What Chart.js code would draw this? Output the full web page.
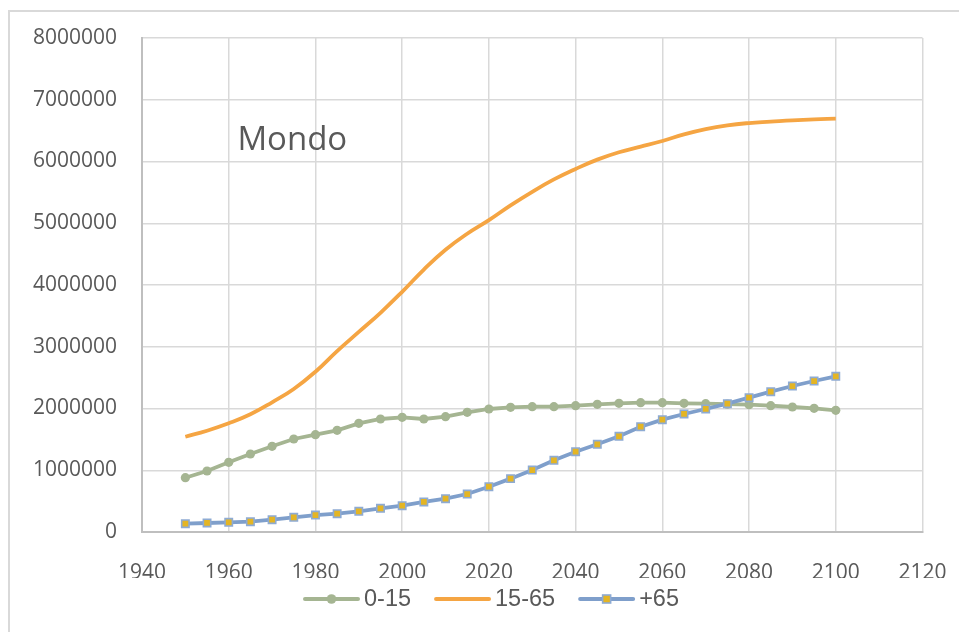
<!DOCTYPE html>
<html>
<head>
<meta charset="utf-8">
<script src="https://cdn.jsdelivr.net/npm/chart.js@4.4.1/dist/chart.umd.min.js"></script>
<style>
  html, body { margin: 0; padding: 0; background: #fff; overflow: hidden; width: 959px; height: 632px; }
  #frame { position: absolute; left: 8px; top: 10px; width: 1000px; height: 1000px;
           border-left: 2px solid #d9d9d9; border-top: 2px solid #d9d9d9; }
  #wrap { position: absolute; left: 0; top: 0; width: 983px; height: 632px; }
</style>
</head>
<body>
<div id="frame"></div>
<div id="wrap"><canvas id="c" width="983" height="632"></canvas></div>
<script>
// World population by age group (thousands), 1950-2100
const years = [1950, 1955, 1960, 1965, 1970, 1975, 1980, 1985, 1990, 1995,
               2000, 2005, 2010, 2015, 2020, 2025, 2030, 2035, 2040, 2045,
               2050, 2055, 2060, 2065, 2070, 2075, 2080, 2085, 2090, 2095, 2100];

const age0to15 = [879000, 988000, 1129000, 1263000, 1388000, 1506000, 1576000, 1647000, 1760000, 1830000,
                  1857000, 1830000, 1867000, 1938000, 1992000, 2019000, 2030000, 2030000, 2046000, 2068000,
                  2084000, 2094000, 2094000, 2084000, 2078000, 2070000, 2062000, 2046000, 2024000, 2003000, 1971000];

const age15to65 = [1543000, 1640000, 1760000, 1906000, 2100000, 2316000, 2596000, 2930000, 3240000, 3550000,
                   3890000, 4250000, 4570000, 4830000, 5050000, 5290000, 5510000, 5710000, 5880000, 6030000,
                   6150000, 6240000, 6332000, 6440000, 6526000, 6586000, 6623000, 6645000, 6667000, 6683000, 6693000];

const age65plus = [135000, 146000, 157000, 167000, 200000, 238000, 275000, 297000, 335000, 384000,
                   426000, 486000, 540000, 615000, 734000, 864000, 1004000, 1161000, 1301000, 1420000,
                   1550000, 1706000, 1819000, 1911000, 1992000, 2078000, 2175000, 2272000, 2364000, 2445000, 2521000];

const seriesLabels = ['0-15', '15-65', '+65'];
const xTickValues = [1940, 1960, 1980, 2000, 2020, 2040, 2060, 2080, 2100, 2120];
const yTickValues = [0, 1000000, 2000000, 3000000, 4000000, 5000000, 6000000, 7000000, 8000000];
const chartLabel = 'Mondo';

const GREEN = '#a5b592';
const ORANGE = '#f5a543';
const BLUE = '#7f9fcb';
const BLUE_EDGE = '#8eabd3';
const YELLOW = '#e4b524';
const TEXT = '#595959';

const toPoints = vals => vals.map((v, i) => ({ x: years[i], y: v }));

// in-plot label drawn at a data position
const plotLabel = {
  id: 'plotLabel',
  afterDatasetsDraw(chart, args, opts) {
    const { ctx, scales } = chart;
    ctx.save();
    ctx.font = opts.font;
    ctx.fillStyle = opts.color;
    ctx.textBaseline = 'alphabetic';
    ctx.textAlign = 'left';
    ctx.fillText(opts.text, scales.x.getPixelForValue(opts.at.x), scales.y.getPixelForValue(opts.at.y));
    ctx.restore();
  }
};

// legend row below the axis: line sample with the series marker, then the series name
const lineLegend = {
  id: 'lineLegend',
  afterDraw(chart, args, opts) {
    const ctx = chart.ctx;
    ctx.save();
    ctx.font = opts.font;
    const items = chart.data.datasets.map(ds => ({ ds, w: ctx.measureText(ds.label).width }));
    const total = items.reduce((s, it) => s + opts.sampleWidth + opts.gap + it.w, 0)
                + opts.spacing * (items.length - 1);
    let x = chart.width / 2 - total / 2;
    const y = chart.chartArea.bottom + opts.offset;
    items.forEach(({ ds, w }) => {
      const cx = x + opts.sampleWidth / 2;
      ctx.strokeStyle = ds.borderColor;
      ctx.lineWidth = 4;
      ctx.lineCap = 'round';
      ctx.beginPath(); ctx.moveTo(x + 1, y); ctx.lineTo(x + opts.sampleWidth - 1, y); ctx.stroke();
      if (ds.pointRadius > 0 && ds.pointStyle === 'circle') {
        ctx.fillStyle = ds.pointBackgroundColor;
        ctx.beginPath(); ctx.arc(cx, y, 4.8, 0, Math.PI * 2); ctx.fill();
      } else if (ds.pointRadius > 0 && ds.pointStyle === 'rect') {
        ctx.fillStyle = ds.pointBackgroundColor;
        ctx.strokeStyle = ds.pointBorderColor;
        ctx.lineWidth = ds.pointBorderWidth;
        ctx.fillRect(cx - 4, y - 4, 8, 8);
        ctx.strokeRect(cx - 4, y - 4, 8, 8);
      }
      ctx.fillStyle = opts.color;
      ctx.textBaseline = 'middle';
      ctx.textAlign = 'left';
      ctx.fillText(ds.label, x + opts.sampleWidth + opts.gap, y + 1);
      x += opts.sampleWidth + opts.gap + w + opts.spacing;
    });
    ctx.restore();
  }
};

new Chart(document.getElementById('c'), {
  type: 'line',
  data: {
    datasets: [
      {
        label: seriesLabels[0], data: toPoints(age0to15), order: 1,
        borderColor: GREEN, backgroundColor: GREEN, borderWidth: 3.8,
        pointStyle: 'circle', pointRadius: 4.6, pointBorderWidth: 0,
        pointBackgroundColor: GREEN, tension: 0
      },
      {
        label: seriesLabels[1], data: toPoints(age15to65), order: 2,
        borderColor: ORANGE, backgroundColor: ORANGE, borderWidth: 3.8,
        pointRadius: 0, tension: 0.45
      },
      {
        label: seriesLabels[2], data: toPoints(age65plus), order: 0,
        borderColor: BLUE, backgroundColor: YELLOW, borderWidth: 3.8,
        pointStyle: 'rect', pointRadius: 5.2, pointBorderWidth: 1.6,
        pointBorderColor: BLUE_EDGE, pointBackgroundColor: YELLOW, tension: 0
      }
    ]
  },
  options: {
    responsive: false,
    animation: false,
    devicePixelRatio: 1,
    layout: { padding: { left: 0, right: 60.5, top: 38, bottom: 54 } },
    scales: {
      x: {
        type: 'linear', min: 1940, max: 2120,
        afterBuildTicks(scale) { scale.ticks = xTickValues.map(v => ({ value: v })); },
        afterFit(scale) { scale.height = 46; scale.paddingLeft = 0; scale.paddingRight = 0; },
        grid: { color: '#d9d9d9', lineWidth: 1.5, drawTicks: false },
        border: { color: '#bfbfbf', width: 2 },
        ticks: { color: TEXT, font: { family: 'Open Sans', size: 21 }, padding: 28,
                 maxRotation: 0, autoSkip: false, callback: v => String(v) }
      },
      y: {
        min: 0, max: 8000000,
        afterBuildTicks(scale) { scale.ticks = yTickValues.map(v => ({ value: v })); },
        afterFit(scale) { scale.width = 142; scale.paddingTop = 0; scale.paddingBottom = 0; },
        grid: { color: '#d9d9d9', lineWidth: 1.5, drawTicks: false },
        border: { color: '#bfbfbf', width: 2 },
        ticks: { color: TEXT, font: { family: 'Open Sans', size: 21 }, padding: 25,
                 callback: v => String(v) }
      }
    },
    plugins: {
      tooltip: { enabled: false },
      legend: { display: false },
      lineLegend: { font: '23.5px "Liberation Sans"', color: TEXT,
                    sampleWidth: 55, gap: 5, spacing: 24, offset: 67 },
      plotLabel: { text: chartLabel, at: { x: 1962, y: 6190000 },
                   font: '33px "Open Sans"', color: TEXT }
    }
  },
  plugins: [plotLabel, lineLegend]
});
</script>
</body>
</html>
